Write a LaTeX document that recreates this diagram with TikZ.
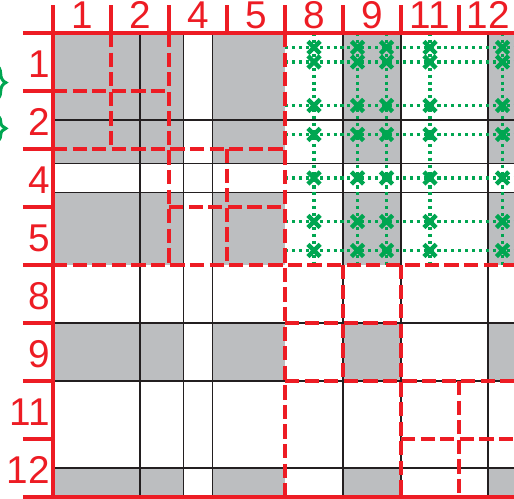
\documentclass[tikz,border=0pt]{standalone}
\usepackage{fontspec}
\setmainfont{Liberation Sans}
\usepackage{tikz}
\usetikzlibrary{shapes.misc, decorations.pathreplacing}
\definecolor{matRed}{RGB}{237, 28, 36}
\definecolor{matGreen}{RGB}{0, 166, 81}
\definecolor{matGray}{RGB}{188, 190, 192}
\definecolor{matInk}{RGB}{35, 31, 32}

\begin{document}
\begin{tikzpicture}[
    x=1cm, y=-1cm,
    lbl/.style={font=\fontsize{19}{19}\selectfont, text=matRed, inner sep=0pt},
    rline/.style={matRed, line width=1.9pt},
    rdash/.style={matRed, line width=1.9pt, dash pattern=on 7pt off 2.6pt},
    bline/.style={matInk, line width=0.8pt},
    gdot/.style={matGreen, line width=1.6pt, dash pattern=on 1.5pt off 1.9pt},
    gmark/.style={cross out, draw=matGreen, line width=2.2pt, minimum size=3.8pt, inner sep=0pt},
    gbrace/.style={matGreen, line width=1.5pt, decorate, decoration={brace, amplitude=5pt}}
]
\useasboundingbox (-0.914,-0.569) rectangle (7.948,8.034);

\foreach \xa/\xb in {0/2.25, 2.75/4, 5/6, 7.5/8}
    \foreach \ya/\yb in {0/2.25, 2.75/4, 5/6, 7.5/8}
        \fill[matGray] (\xa,\ya) rectangle (\xb,\yb);

\foreach \p in {1.5, 2.25, 2.75, 5, 6, 7.5} {
    \draw[bline] (\p,0) -- (\p,8);
    \draw[bline] (0,\p) -- (8,\p);
}

\foreach \gy in {0.25, 0.5, 1.25, 1.75, 2.5, 3.25, 3.75}
    \draw[gdot] (4,\gy) -- (8,\gy);
\foreach \gx in {4.5, 5.25, 5.75, 6.5, 7.75}
    \draw[gdot] (\gx,0) -- (\gx,4);
\foreach \gx [count=\i] in {4.5, 5.25, 5.75, 6.5, 7.75}
    \foreach \gy [count=\j] in {0.25, 0.5, 1.25, 1.75, 2.5, 3.25, 3.75}
        \node[gmark] (m-\i-\j) at (\gx,\gy) {};

\foreach \a/\b in {0/1, 2/3, 4/5, 6/7} {
    \draw[rdash] (\a,\b) -- (\a+2,\b);
    \draw[rdash] (\b,\a) -- (\b,\a+2);
}
\draw[rdash] (0,2) -- (4,2);
\draw[rdash] (2,0) -- (2,4);
\draw[rdash] (4,6) -- (8,6);
\draw[rdash] (6,4) -- (6,8);
\draw[rdash] (0,4) -- (8,4);
\draw[rdash] (4,0) -- (4,8);

\draw[rline] (-0.52,0) -- (8,0);
\draw[rline] (-0.52,8) -- (8,8);
\draw[rline] (0,-0.48) -- (0,8);
\foreach \i in {1,...,7} {
    \draw[rline] (\i,-0.48) -- (\i,0);
    \draw[rline] (-0.52,\i) -- (0,\i);
}

\foreach \n [count=\i from 0] in {1,2,4,5,8,9,11,12} {
    \node[lbl, anchor=base] (c\n) at (\i+0.5,-0.07) {\n};
    \node[lbl, anchor=base east] (r\n) at (-0.05,\i+0.76) {\n};
}

\draw[gbrace] (-0.99,0.55) -- (-0.99,1.16);
\draw[gbrace] (-0.99,1.41) -- (-0.99,1.88);
\end{tikzpicture}
\end{document}
